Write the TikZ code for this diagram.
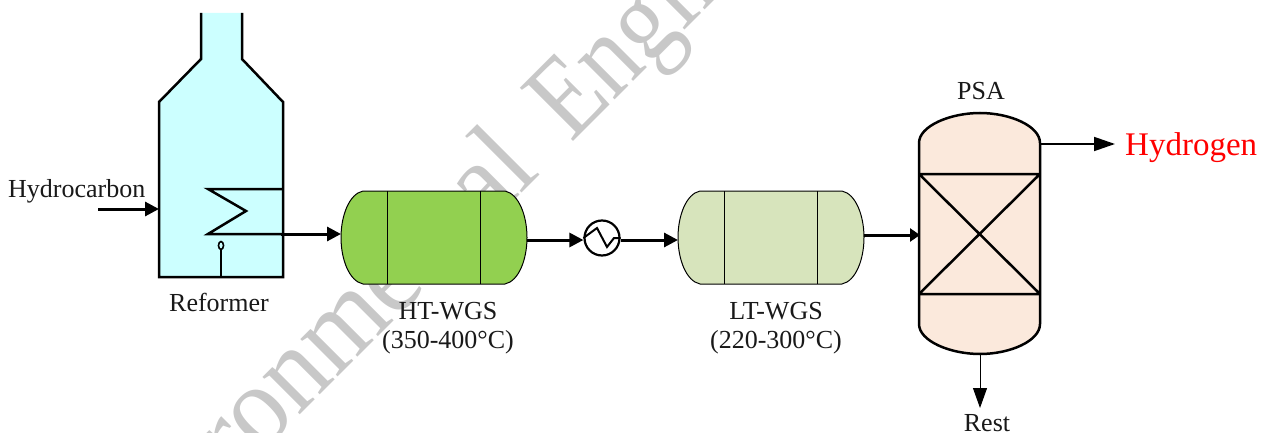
\documentclass[tikz,border=0pt]{standalone}
\usepackage{fontspec}
\setmainfont{Liberation Serif}
\usetikzlibrary{arrows.meta,calc,shapes.geometric}
\definecolor{refcol}{RGB}{204,255,255}
\definecolor{htcol}{RGB}{146,208,80}
\definecolor{ltcol}{RGB}{215,228,188}
\definecolor{psacol}{RGB}{251,233,220}
\definecolor{wmark}{RGB}{200,200,200}
\tikzset{
  lab/.style={font=\fontsize{26}{29}\selectfont, inner sep=0pt, align=center, text=black!90},
  heavy/.style={line width=2.5pt, line join=miter},
  flow/.style={line width=3pt, -{Triangle[length=14pt,width=14pt]}},
  vessel/.style={draw=black, line width=1pt},
  wmk/.style={rotate=45, inner sep=0pt, text=wmark, font=\fontsize{115}{120}\selectfont},
}
\begin{document}
\begin{tikzpicture}[x=1pt,y=-1pt]
\useasboundingbox (0,0) rectangle (1266,433);
% watermark
\begin{scope}
\clip (0,0) rectangle (1266,433);
\node[wmk, xscale=.93, anchor=base east] (wma) at (542,173) {Environmental};
\node[wmk, xscale=.86, anchor=base west] (wmb) at (571,144) {Engineering};
\end{scope}
% Reformer
\fill[refcol] (201,13) -- (242,13) -- (242,59) -- (283,102) -- (283,277) -- (159,277) -- (159,102) -- (201,59) -- cycle;
\draw[heavy] (201,13) -- (201,59) -- (159,102) -- (159,277) -- (283,277) -- (283,102) -- (242,59) -- (242,13);
\draw[heavy] (283,189) -- (208,189) -- (246,211) -- (208,234) -- (283,234);
\coordinate (burnbase) at (221,277);
\node[draw=black, line width=1.6pt, ellipse, minimum width=5pt, minimum height=8pt, inner sep=0pt] (flame) at (221,245.5) {};
\draw[heavy] (burnbase) -- (flame.south);
\node[lab] (reflab) at (219,302) {Reformer};
\node[lab, anchor=base west] (hc) at (8,197) {Hydrocarbon};
\coordinate (hcstart) at (98,209);
\coordinate (refin) at (159,209);
\coordinate (refout) at (281,234);
% HT-WGS
\path[fill=htcol, vessel] (363,191) -- (505,191) .. controls (519,194) and (527,216) .. (527,237.5) .. controls (527,259) and (519,281) .. (505,284) -- (363,284) .. controls (349,281) and (341,259) .. (341,237.5) .. controls (341,216) and (349,194) .. (363,191) -- cycle;
\draw[vessel] (387,191) -- (387,284) (480,191) -- (480,284);
\coordinate (htin) at (341,234);
\coordinate (htout) at (527,240);
\node[lab] (htlab) at (448,328.5) {HT-WGS\\(350-400°C)};
% Heat exchanger
\node[circle, draw=black, line width=2.2pt, minimum size=35pt, inner sep=0pt, fill=white] (hx) at (602,238) {};
\draw[line width=2pt] (hx.west) -- (597,228) -- (607,247) -- (614,238) -- (hx.east);
% LT-WGS
\path[fill=ltcol, vessel] (700,191) -- (842,191) .. controls (856,194) and (864,216) .. (864,237.5) .. controls (864,259) and (856,281) .. (842,284) -- (700,284) .. controls (686,281) and (678,259) .. (678,237.5) .. controls (678,216) and (686,194) .. (700,191) -- cycle;
\draw[vessel] (724,191) -- (724,284) (817,191) -- (817,284);
\coordinate (ltin) at (678,240);
\coordinate (ltout) at (864,235);
\node[lab] (ltlab) at (776,328.5) {LT-WGS\\(220-300°C)};
% PSA
\path[fill=psacol] (919,143) .. controls (919,126) and (950,113) .. (980,113) .. controls (1010,113) and (1040,126) .. (1040,143) -- (1040,324) .. controls (1040,341) and (1010,354) .. (980,354) .. controls (950,354) and (919,341) .. (919,324) -- cycle;
\draw[heavy] (919,143) .. controls (919,126) and (950,113) .. (980,113) .. controls (1010,113) and (1040,126) .. (1040,143) -- (1040,324) .. controls (1040,341) and (1010,354) .. (980,354) .. controls (950,354) and (919,341) .. (919,324) -- cycle;
\draw[heavy] (919,174) -- (1040,174) (919,294) -- (1040,294) (919,174) -- (1040,294) (919,294) -- (1040,174);
\node[lab] (psalab) at (981,91) {PSA};
\coordinate (psain) at (920,235);
\coordinate (psaout) at (1040,144);
\coordinate (psabot) at (980,354);
\coordinate (h2tip) at (1115,144);
\coordinate (resttip) at (980,408);
\node[lab, anchor=base west, text=red, font=\fontsize{33}{36}\selectfont] (h2) at (1125,156) {Hydrogen};
\node[lab] (rest) at (987,423) {Rest};
% Connectors
\draw[flow] (hcstart) -- (refin);
\draw[flow] (refout) -- (htin);
\draw[flow] (htout) -- (hx.west |- htout);
\draw[flow] (hx.east |- ltin) -- (ltin);
\draw[flow, -{Triangle[length=10pt,width=13pt]}] (ltout) -- (psain);
\draw[line width=1.8pt, -{Triangle[length=21pt,width=14pt]}] (psaout) -- (h2tip);
\draw[line width=1pt, -{Triangle[length=20pt,width=14pt]}] (psabot) -- (resttip);
\end{tikzpicture}
\end{document}
